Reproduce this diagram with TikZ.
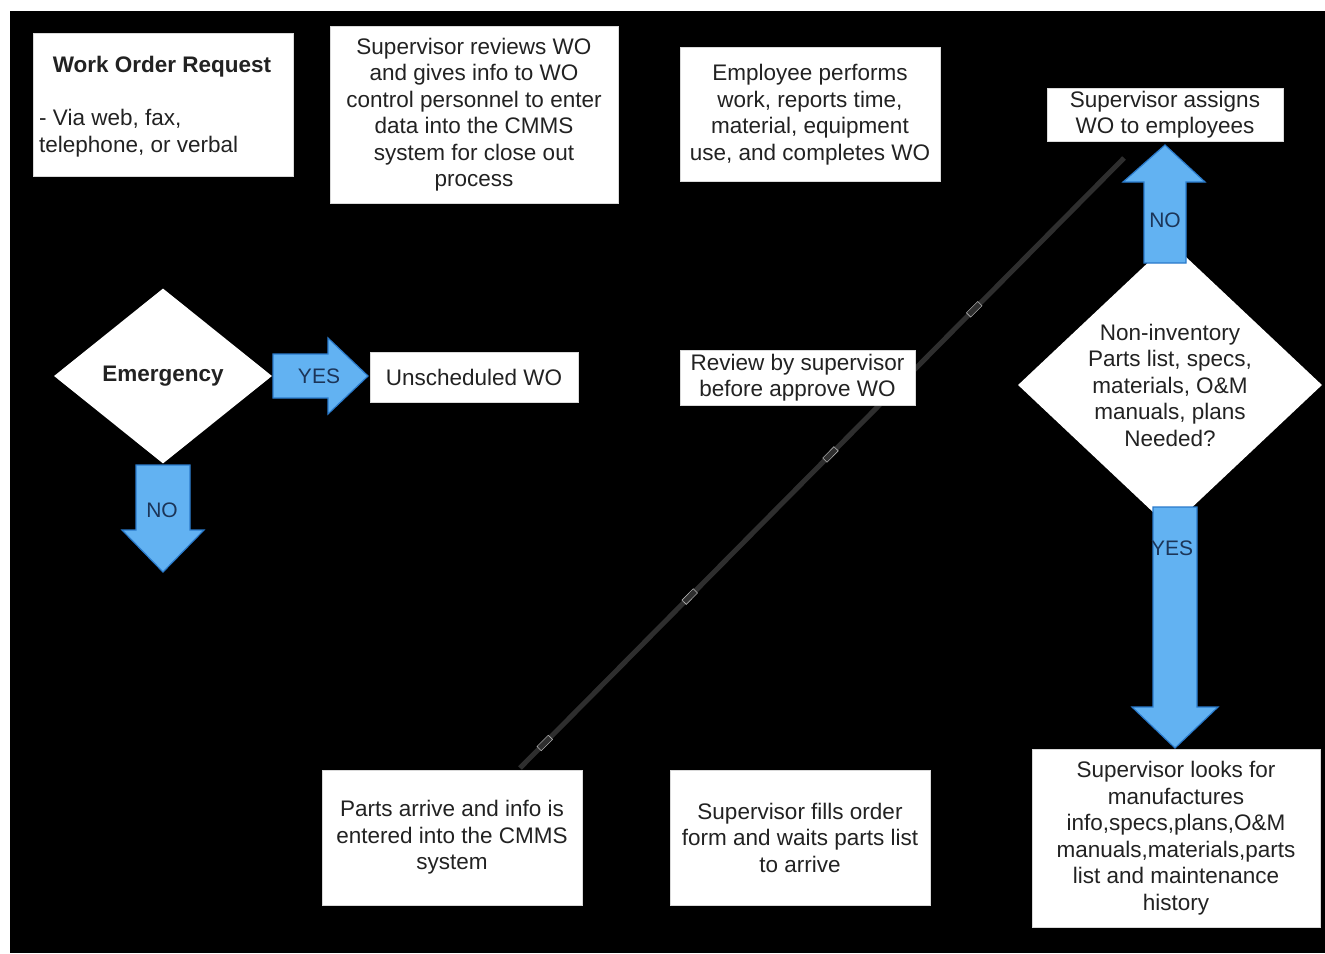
\documentclass[tikz,border=0pt]{standalone}
\usepackage{fontspec}
\setmainfont{Liberation Sans}
\usetikzlibrary{shapes.geometric}
\definecolor{txt}{HTML}{222222}
\definecolor{arrfill}{HTML}{62B2F2}
\definecolor{arredge}{HTML}{2A7ACB}
\definecolor{lbl}{HTML}{1C3558}
\definecolor{diag}{HTML}{2E2E2E}
\tikzset{
  box/.style={fill=white, draw=white!85!black, line width=0.8pt, inner sep=0pt, align=center, text=txt,
    font=\fontsize{22.5}{26.5}\selectfont},
  dmd/.style={diamond, fill=white, inner sep=0pt, align=center, text=txt,
    font=\fontsize{22.5}{26.5}\selectfont},
  blockarrow/.style={fill=arrfill, draw=arredge, line width=1.2pt, line join=miter},
  arrlabel/.style={text=lbl, font=\fontsize{21}{24}\selectfont, inner sep=0pt},
  linemark/.style={draw=white!70!black, line width=0.6pt, minimum width=16pt, minimum height=6pt, inner sep=0pt, sloped}
}
\begin{document}
\begin{tikzpicture}[x=1pt,y=-1pt]
\useasboundingbox (0,0) rectangle (1325,953);
\fill[white] (0,0) rectangle (1325,953);
\fill[black] (10,11) rectangle (1325,953);

% diagonal connector (drawn behind the boxes)
\coordinate (dtop) at (1124,158);
\coordinate (dbot) at (520,768);
\draw[diag, line width=5pt] (dbot) -- (dtop)
  node[linemark, pos=0.041] {} node[linemark, pos=0.281] {} node[linemark, pos=0.514] {} node[linemark, pos=0.752] {};

% boxes
\node[box, minimum width=260pt, minimum height=143pt] (wor) at (163,104.5) {};
\node[text=txt, font=\fontsize{22.5}{26.5}\selectfont\bfseries, inner sep=0pt] (wortitle) at (162,67) {Work Order Request};
\node[text=txt, font=\fontsize{22.5}{26.5}\selectfont, inner sep=0pt, align=left, anchor=west] (worlist) at (39,133) {- Via web, fax,\\telephone, or verbal};

\node[box, minimum width=288pt, minimum height=177pt] (sup) at (474,114.5)
  {Supervisor reviews WO\\and gives info to WO\\control personnel to enter\\data into the CMMS\\system for close out\\process};
\node[box, minimum width=260pt, minimum height=134pt] (emp) at (810,114.5)
  {Employee performs\\work, reports time,\\material, equipment\\use, and completes WO};
\node[box, minimum width=236pt, minimum height=53pt] (asg) at (1165,114.5)
  {Supervisor assigns\\WO to employees};

\node[dmd, minimum width=218pt, minimum height=175pt, font=\fontsize{22.5}{26.5}\selectfont\bfseries] (emerg) at (163,376) {Emergency};
\node[box, minimum width=208pt, minimum height=50pt] (unsch) at (474,377) {Unscheduled WO};
\node[box, minimum width=235pt, minimum height=55pt] (rev) at (797.5,377.5) {Review by supervisor\\before approve WO};
\node[dmd, minimum width=304pt, minimum height=240pt] (noninv) at (1170,385)
  {Non-inventory\\Parts list, specs,\\materials, O\&M\\manuals, plans\\Needed?};

\node[box, minimum width=288pt, minimum height=178pt] (look) at (1176,838)
  {Supervisor looks for\\manufactures\\info,specs,plans,O\&M\\manuals,materials,parts\\list and maintenance\\history};
\node[box, minimum width=260pt, minimum height=135pt] (parts) at (452,837.5)
  {Parts arrive and info is\\entered into the CMMS\\system};
\node[box, minimum width=260pt, minimum height=135pt] (fills) at (800,837.5)
  {Supervisor fills order\\form and waits parts list\\to arrive};

% YES arrow (emergency -> unscheduled)
\draw[blockarrow] (273,354) -- (328,354) -- (328,338) -- (368,376) -- (328,414) -- (328,398) -- (273,398) -- cycle;
\node[arrlabel] (yes1) at (319,376) {YES};

% NO arrow down (emergency)
\draw[blockarrow] (136,465) -- (190,465) -- (190,530) -- (204,530) -- (163,572) -- (122,530) -- (136,530) -- cycle;
\node[arrlabel] (no1) at (162,510) {NO};

% NO arrow up (noninv -> assign)
\draw[blockarrow] (1144,263) -- (1144,182) -- (1123,182) -- (1165,145) -- (1205,182) -- (1186,182) -- (1186,263) -- cycle;
\node[arrlabel] (no2) at (1165,220) {NO};

% YES arrow down (noninv -> look)
\draw[blockarrow] (1153,507) -- (1197,507) -- (1197,707) -- (1218,707) -- (1175,748) -- (1132,707) -- (1153,707) -- cycle;
\node[arrlabel] (yes2) at (1172,548) {YES};
\end{tikzpicture}
\end{document}
